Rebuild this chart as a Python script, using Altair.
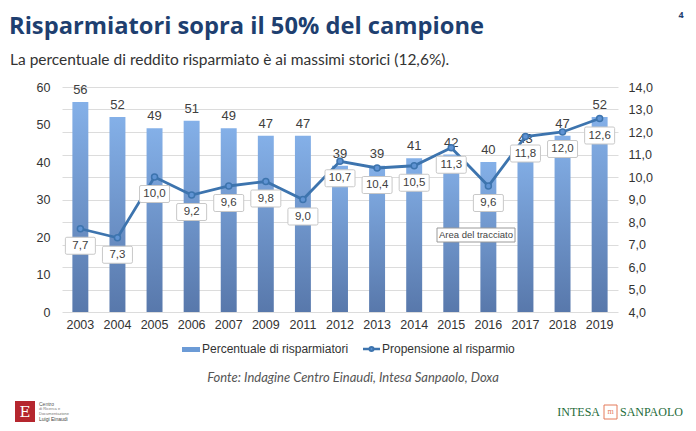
import altair as alt
import pandas as pd

years = ["2003", "2004", "2005", "2006", "2007", "2009", "2011", "2012",
         "2013", "2014", "2015", "2016", "2017", "2018", "2019"]
savers_pct = [56, 52, 49, 51, 49, 47, 47, 39, 39, 41, 42, 40, 43, 47, 52]
propensity = [7.7, 7.3, 10.0, 9.2, 9.6, 9.8, 9.0, 10.7, 10.4, 10.5, 11.3, 9.6, 11.8, 12.0, 12.6]
left_ticks = [0, 10, 20, 30, 40, 50, 60]
right_ticks = [4, 5, 6, 7, 8, 9, 10, 11, 12, 13, 14]

title_text = "Risparmiatori sopra il 50% del campione"
subtitle_text = "La percentuale di reddito risparmiato è ai massimi storici (12,6%)."
legend_bar = "Percentuale di risparmiatori"
legend_line = "Propensione al risparmio"
source_text = "Fonte: Indagine Centro Einaudi, Intesa Sanpaolo, Doxa"
tooltip_text = "Area del tracciato"

df = pd.DataFrame({
    "year": years,
    "pct": savers_pct,
    "prop": propensity,
    "prop_lbl": [f"{v:.1f}".replace(".", ",") for v in propensity],
})

FONT = "Liberation Sans"
W, H = 556, 225

x_enc = alt.X("year:N", sort=years, title=None,
              scale=alt.Scale(paddingInner=0.57, paddingOuter=0.28),
              axis=alt.Axis(labelAngle=0, labelFont=FONT, labelFontSize=12.5,
                            labelColor="#333333", labelPadding=6, ticks=False,
                            domain=False, grid=False))

y_left = alt.Y("pct:Q", title=None,
               scale=alt.Scale(domain=[0, 60], nice=False),
               axis=alt.Axis(values=left_ticks, grid=False, ticks=False, domain=False,
                             labelFont=FONT, labelFontSize=12.5, labelColor="#333333",
                             labelPadding=12))

y_right = alt.Y("prop:Q", title=None,
                scale=alt.Scale(domain=[4, 14], nice=False, zero=False),
                axis=alt.Axis(orient="right", values=right_ticks, grid=True,
                              gridColor="#DCDCDC", gridWidth=1, ticks=False, domain=False,
                              labelFont=FONT, labelFontSize=12.5, labelColor="#333333",
                              labelPadding=10,
                              labelExpr="replace(format(datum.value, '.1f'), '.', ',')"))

base = alt.Chart(df)

bars = base.mark_bar(
    color=alt.Gradient(gradient="linear", x1=0, x2=0, y1=0, y2=1,
                       stops=[alt.GradientStop(color="#84B0E8", offset=0),
                              alt.GradientStop(color="#5878AB", offset=1)])
).encode(x=x_enc, y=y_left)

bar_labels = base.mark_text(baseline="bottom", dy=-5, font=FONT, fontSize=13,
                            color="#404040").encode(x=x_enc, y=y_left, text="pct:Q")

left_layer = alt.layer(bars, bar_labels)

line = base.mark_line(color="#3D74AE", strokeWidth=2.8).encode(x=x_enc, y=y_right)
points = base.mark_point(filled=True, fill="#5F93D3", stroke="#3D74AE", strokeWidth=1.5,
                         size=36, opacity=1).encode(x=x_enc, y=y_right)

box_path = ("M-1.35,-0.85 L1.35,-0.85 Q1.5,-0.85 1.5,-0.7 L1.5,0.7 Q1.5,0.85 1.35,0.85 "
            "L-1.35,0.85 Q-1.5,0.85 -1.5,0.7 L-1.5,-0.7 Q-1.5,-0.85 -1.35,-0.85 Z")
boxes = base.mark_point(shape=box_path, size=400, filled=True, fill="white",
                        stroke="#C8C8C8", strokeWidth=1, opacity=1,
                        yOffset=17).encode(x=x_enc, y=y_right)
box_text = base.mark_text(font=FONT, fontSize=11.5, color="#404040", dy=17,
                          baseline="middle").encode(x=x_enc, y=y_right, text="prop_lbl:N")

right_layer = alt.layer(line, points, boxes, box_text)

# ---------- annotations (page text, legend, logos) ----------
def txt(text, x, y, **kw):
    return alt.Chart(pd.DataFrame({"t": [text]})).mark_text(**kw).encode(
        x=alt.value(x), y=alt.value(y), text="t:N")

OX, OY = 62, 87  # plot origin in page coordinates

title = txt(title_text, 9 - OX, 34 - OY, align="left", baseline="alphabetic",
            font="Open Sans", fontWeight="bold", fontSize=23.7, color="#1E3F70")
subtitle = txt(subtitle_text, 10 - OX, 60 - OY, align="left", baseline="middle",
               font="Lato", fontSize=15.5, color="#333333")
pageno = txt("4", 681 - OX, 18 - OY, align="center", baseline="alphabetic",
             font="Open Sans", fontWeight="bold", fontSize=9, color="#1E3F70")

leg_bar_sw = alt.Chart(pd.DataFrame({"a": [0]})).mark_rect(color="#6C9BD6").encode(
    x=alt.value(182 - OX), x2=alt.value(200 - OX),
    y=alt.value(347 - OY), y2=alt.value(352 - OY))
leg_bar_txt = txt(legend_bar, 202 - OX, 349 - OY, align="left", baseline="middle",
                  font=FONT, fontSize=12, color="#333333")
leg_line_sw = alt.Chart(pd.DataFrame({"a": [0]})).mark_rule(color="#3D74AE", strokeWidth=2.5).encode(
    x=alt.value(363 - OX), x2=alt.value(380 - OX), y=alt.value(349 - OY))
leg_line_pt = alt.Chart(pd.DataFrame({"a": [0]})).mark_point(
    filled=True, fill="#5F93D3", stroke="#3D74AE", size=16, opacity=1).encode(
    x=alt.value(371.5 - OX), y=alt.value(349 - OY))
leg_line_txt = txt(legend_line, 382 - OX, 349 - OY, align="left", baseline="middle",
                   font=FONT, fontSize=12, color="#333333")

source = txt(source_text, 353 - OX, 378 - OY, align="center", baseline="middle",
             font="Lato", fontStyle="italic", fontSize=13, color="#555555")

# tooltip-like box
tip_box = alt.Chart(pd.DataFrame({"a": [0]})).mark_rect(
    fill="white", stroke="#9A9A9A", strokeWidth=1).encode(
    x=alt.value(437 - OX), x2=alt.value(515 - OX),
    y=alt.value(228 - OY), y2=alt.value(242 - OY))
tip_txt = txt(tooltip_text, 476 - OX, 235 - OY, align="center", baseline="middle",
              font=FONT, fontSize=9.5, color="#444444")

# left logo
logo_sq = alt.Chart(pd.DataFrame({"a": [0]})).mark_rect(color="#B5262E").encode(
    x=alt.value(15 - OX), x2=alt.value(35 - OX),
    y=alt.value(401 - OY), y2=alt.value(422 - OY))
logo_e = txt("E", 25 - OX, 412 - OY, align="center", baseline="middle",
             font="DejaVu Serif", fontSize=15, color="white")
logo_l1 = txt("Centro", 39 - OX, 404 - OY, align="left", baseline="middle",
              font=FONT, fontSize=5, color="#555555")
logo_l2 = txt("di Ricerca e", 39 - OX, 409 - OY, align="left", baseline="middle",
              font=FONT, fontSize=4, color="#777777")
logo_l3 = txt("Documentazione", 39 - OX, 413.5 - OY, align="left", baseline="middle",
              font=FONT, fontSize=4, color="#777777")
logo_l4 = txt("Luigi Einaudi", 39 - OX, 418.5 - OY, align="left", baseline="middle",
              font=FONT, fontSize=5, color="#444444")

# right logo
isp1 = txt("INTESA", 600 - OX, 412 - OY, align="right", baseline="middle",
           font="Liberation Serif", fontSize=12, color="#1E6B3A")
isp_box = alt.Chart(pd.DataFrame({"a": [0]})).mark_rect(
    fill="white", stroke="#E47A5A", strokeWidth=1).encode(
    x=alt.value(604 - OX), x2=alt.value(617 - OX),
    y=alt.value(405 - OY), y2=alt.value(419 - OY))
isp_m = txt("m", 610.5 - OX, 412 - OY, align="center", baseline="middle",
            font="Liberation Serif", fontSize=8, color="#E47A5A")
isp2 = txt("SANPAOLO", 620 - OX, 412 - OY, align="left", baseline="middle",
           font="Liberation Serif", fontSize=12, color="#1E6B3A")

main = alt.layer(left_layer, right_layer).resolve_scale(y="independent")

chart = alt.layer(
    main, title, subtitle, pageno,
    leg_bar_sw, leg_bar_txt, leg_line_sw, leg_line_pt, leg_line_txt,
    source, tip_box, tip_txt,
    logo_sq, logo_e, logo_l1, logo_l2, logo_l3, logo_l4,
    isp1, isp_box, isp_m, isp2,
).properties(
    width=W, height=H,
    autosize=alt.AutoSizeParams(type="none"),
    padding={"left": 54, "top": 79, "right": 70, "bottom": 111},
    background="white",
).configure_view(stroke=None)

chart.save("out.html", embed_options={"renderer": "svg", "actions": False})
